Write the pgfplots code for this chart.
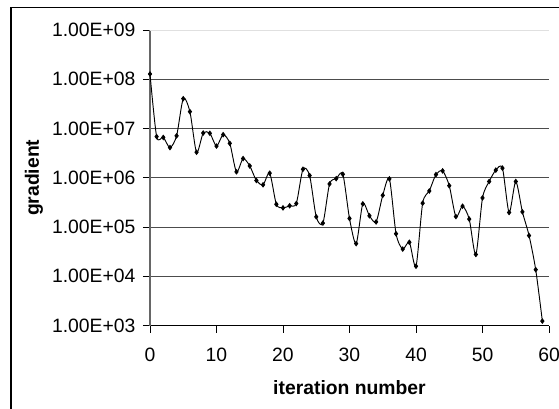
\documentclass[border=0pt]{standalone}
\usepackage{fontspec}
\setmainfont{Liberation Sans}
\usepackage{pgfplots}
\pgfplotsset{compat=1.18}
\begin{document}
\fontsize{14}{16}\selectfont
\begin{tikzpicture}
\begin{axis}[
  scale only axis,
  width=299.25pt, height=221.6pt,
  xmin=0, xmax=60,
  ymode=log, ymin=1e3, ymax=1e9,
  axis x line*=bottom, axis y line*=left,
  x axis line style={black, line width=0.8pt, -},
  y axis line style={black!60, line width=1pt, -},
  xtick={0,10,...,60},
  ytick={1e3,1e4,1e5,1e6,1e7,1e8,1e9},
  yticklabels={1.00E+03,1.00E+04,1.00E+05,1.00E+06,1.00E+07,1.00E+08,1.00E+09},
  minor tick num=0, yminorticks=false,
  tick align=outside,
  major tick length=5.25pt,
  tick style={black, line width=0.6pt},
  ymajorgrids,
  major grid style={black!70, line width=0.6pt},
  /pgf/number format/assume math mode=true,
  ticklabel style={font=\fontsize{14.5}{16}\selectfont},
  yticklabel style={anchor=east, inner sep=0pt, xshift=-5.5pt},
  xticklabel style={anchor=center, inner sep=0pt, yshift=-16.9pt},
  xlabel={\textbf{iteration number}},
  ylabel={\textbf{gradient}},
  label style={font=\fontsize{14.5}{16}\selectfont},
  xlabel style={at={(axis description cs:0.5,-0.2116)}, anchor=center},
  ylabel style={at={(axis description cs:-0.2907,0.5)}, anchor=center},
  clip=false,
]
\draw[white, line width=1.2pt] (axis cs:0,1e9) -- (axis cs:60,1e9);
\draw[black!12, line width=0.6pt] (axis cs:0,1e9) -- (axis cs:60,1e9);
\addplot[black, line width=0.7pt, smooth, tension=0.45, mark=diamond*, mark size=1.6pt] coordinates {
(0,1.28e8) (1,6.85e6) (2,6.6e6) (3,4.1e6) (4,7.1e6) (5,4.04e7) (6,2.2e7) (7,3.3e6) (8,8.1e6) (9,8.0e6)
(10,4.4e6) (11,7.5e6) (12,5.0e6) (13,1.32e6) (14,2.45e6) (15,1.74e6) (16,8.8e5) (17,7.2e5) (18,1.24e6) (19,2.9e5)
(20,2.45e5) (21,2.7e5) (22,3.0e5) (23,1.49e6) (24,1.11e6) (25,1.61e5) (26,1.2e5) (27,7.5e5) (28,9.6e5) (29,1.18e6)
(30,1.49e5) (31,4.6e4) (32,2.95e5) (33,1.69e5) (34,1.27e5) (35,4.4e5) (36,9.5e5) (37,7.3e4) (38,3.56e4) (39,4.9e4)
(40,1.6e4) (41,3.05e5) (42,5.4e5) (43,1.16e6) (44,1.38e6) (45,6.9e5) (46,1.63e5) (47,2.65e5) (48,1.45e5) (49,2.77e4)
(50,3.9e5) (51,8.4e5) (52,1.43e6) (53,1.57e6) (54,1.97e5) (55,8.4e5) (56,2.03e5) (57,6.7e4) (58,1.36e4) (59,1.23e3)
};
\end{axis}
\draw[black, line width=1.1pt] (-104.25pt,-80pt) -- (-104.25pt,238.5pt) -- (330pt,238.5pt);
\pgfresetboundingbox
\useasboundingbox (-112.5pt,-61.875pt) rectangle (306.75pt,244.125pt);
\end{tikzpicture}
\end{document}
